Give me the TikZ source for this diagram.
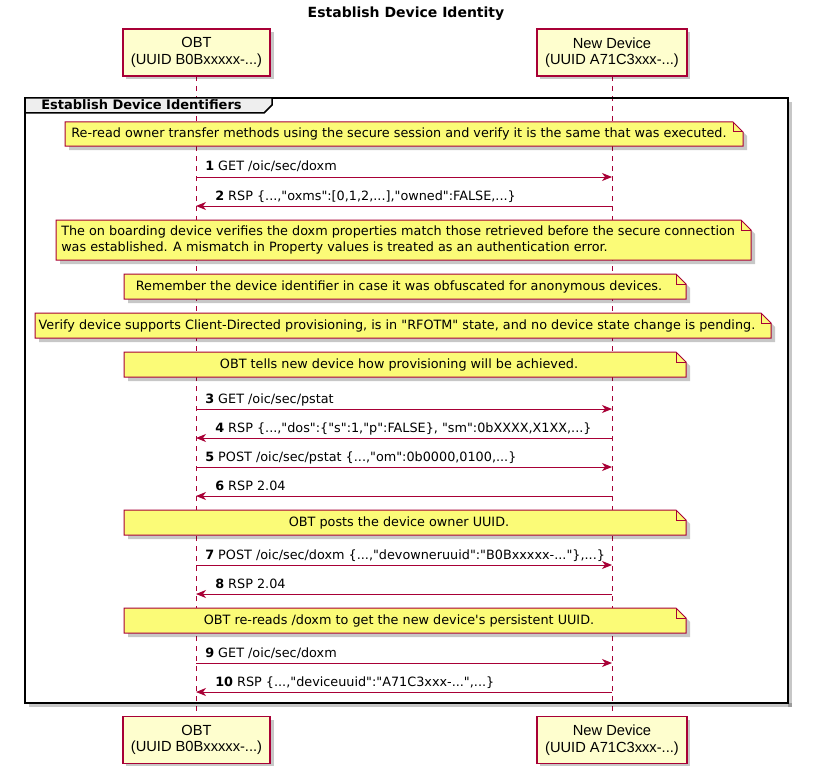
\documentclass[tikz,border=0pt]{standalone}
\usepackage{fontspec}
\setmainfont{DejaVu Sans}
\newfontfamily\partfont{Liberation Sans}
\usetikzlibrary{arrows.meta,calc}
\definecolor{pborder}{HTML}{A80036}
\definecolor{pfill}{HTML}{FEFECE}
\definecolor{nfill}{HTML}{FBFB77}
\definecolor{tabfill}{HTML}{EEEEEE}
\newcommand\qd{\textquotedbl}
\newcommand\notebox[7]{%
  \fill[shadowfill] (#1+4,#2+4) -- (#3-6,#2+4) -- (#3+4,#2+14) -- (#3+4,#4+4) -- (#1+4,#4+4) -- cycle;
  \draw[notestyle] (#1,#2) -- (#3-10,#2) -- (#3,#2+10) -- (#3,#4) -- (#1,#4) -- cycle;
  \draw[pborder, line width=0.75pt, line join=miter] (#3-10,#2) -- (#3-10,#2+10) -- (#3,#2+10);
  \node[notetext, #6] (#5) {#7};
}
\begin{document}
\begin{tikzpicture}[x=0.75pt,y=-0.75pt,
  base/.style={font=\fontsize{9.6pt}{12pt}\selectfont},
  participant/.style={font=\partfont\fontsize{11pt}{12.4pt}\selectfont, draw=pborder, fill=pfill, line width=1.125pt, align=center,
     minimum height=35.25pt, inner sep=0pt},
  lifeline/.style={draw=pborder, line width=0.75pt, dash pattern=on 3.75pt off 3.75pt},
  msg/.style={draw=pborder, line width=0.75pt, -{Stealth[length=7.5pt,width=6pt,inset=2.25pt]}},
  lbl/.style={base, inner sep=0pt, anchor=base west},
  notestyle/.style={draw=pborder, fill=nfill, line width=0.75pt, line join=miter},
  notetext/.style={base, inner sep=0pt},
  shadowfill/.style={fill=black, opacity=0.22},
]
\useasboundingbox (0,0) rectangle (816,781);

% title
\node[font=\bfseries\fontsize{10.5pt}{12pt}\selectfont] (title) at (406,14) {Establish Device Identity};

% lifelines
\coordinate (obtTop) at (196,76);
\coordinate (obtBot) at (196,717);
\coordinate (ndTop) at (612,76);
\coordinate (ndBot) at (612,717);
\draw[lifeline] (obtTop) -- (obtBot);
\draw[lifeline] (ndTop) -- (ndBot);

% participants (shadows)
\fill[shadowfill] (126,32) rectangle (274,79);
\fill[shadowfill] (540,32) rectangle (690,79);
\fill[shadowfill] (126,720) rectangle (274,766);
\fill[shadowfill] (540,720) rectangle (690,766);
\node[participant, minimum width=110.25pt] (obt) at (196.5,52.5) {OBT\\(UUID B0Bxxxxx-...)};
\node[participant, minimum width=112.5pt] (nd) at (612,52.5) {New Device\\(UUID A71C3xxx-...)};
\node[participant, minimum width=110.25pt] (obt2) at (196.5,740) {OBT\\(UUID B0Bxxxxx-...)};
\node[participant, minimum width=112.5pt] (nd2) at (612,740) {New Device\\(UUID A71C3xxx-...)};

% group frame
\fill[shadowfill] (788,102) rectangle (792,707);
\fill[shadowfill] (29,703) rectangle (792,707);
\draw[black, line width=1.5pt] (25,98) rectangle (788,703);
\draw[black, line width=1.125pt, fill=tabfill, line join=miter] (25,98) -- (272,98) -- (272,105) -- (264,113) -- (25,113) -- cycle;
\node[base, font=\bfseries\fontsize{9.75pt}{12pt}\selectfont, anchor=base west, inner sep=0pt] (grp) at (41,110) {Establish Device Identifiers};

% notes
\notebox{65}{122}{743}{146}{n1}{at={(399,134)}}{Re-read owner transfer methods using the secure session and verify it is the same that was executed.}
\notebox{56}{220}{751}{260}{n2}{align=left, anchor=west, at={(61,240)}}{The on boarding device verifies the doxm properties match those retrieved before the secure connection\\was established. A mismatch in Property values is treated as an authentication error.}
\notebox{124}{274}{686}{299}{n3}{at={(399,287)}}{Remember the device identifier in case it was obfuscated for anonymous devices.}
\notebox{35}{313}{771}{338}{n4}{at={(397,326)}}{Verify device supports Client-Directed provisioning, is in \qd RFOTM\qd{} state, and no device state change is pending.}
\notebox{124}{352}{686}{377}{n5}{at={(399,365)}}{OBT tells new device how provisioning will be achieved.}
\notebox{124}{510}{686}{535}{n6}{at={(399,523)}}{OBT posts the device owner UUID.}
\notebox{124}{608}{686}{633}{n7}{at={(399,621)}}{OBT re-reads /doxm to get the new device\textquotesingle s persistent UUID.}

% messages
\foreach \i/\y in {1/177,2/206,3/409,4/438,5/467,6/496,7/565,8/594,9/663,10/692}{
  \coordinate (o\i) at (196,\y);
  \coordinate (d\i) at (612,\y);
}
\draw[msg] (o1) -- (d1);
\draw[msg] (d2) -- (o2);
\draw[msg] (o3) -- (d3);
\draw[msg] (d4) -- (o4);
\draw[msg] (o5) -- (d5);
\draw[msg] (d6) -- (o6);
\draw[msg] (o7) -- (d7);
\draw[msg] (d8) -- (o8);
\draw[msg] (o9) -- (d9);
\draw[msg] (d10) -- (o10);

\node[lbl] (m1) at (205,171) {\textbf{1} GET /oic/sec/doxm};
\node[lbl] (m2) at (215,200) {\textbf{2} RSP \{...,\qd oxms\qd:[0,1,2,...],\qd owned\qd:FALSE,...\}};
\node[lbl] (m3) at (205,403) {\textbf{3} GET /oic/sec/pstat};
\node[lbl] (m4) at (215,432) {\textbf{4} RSP \{...,\qd dos\qd:\{\qd s\qd:1,\qd p\qd:FALSE\}, \qd sm\qd:0bXXXX,X1XX,...\}};
\node[lbl] (m5) at (205,461) {\textbf{5} POST /oic/sec/pstat \{...,\qd om\qd:0b0000,0100,...\}};
\node[lbl] (m6) at (215,490) {\textbf{6} RSP 2.04};
\node[lbl] (m7) at (205,559) {\textbf{7} POST /oic/sec/doxm \{...,\qd devowneruuid\qd:\qd B0Bxxxxx-...\qd\},...\}};
\node[lbl] (m8) at (215,588) {\textbf{8} RSP 2.04};
\node[lbl] (m9) at (205,657) {\textbf{9} GET /oic/sec/doxm};
\node[lbl] (m10) at (215,686) {\textbf{10} RSP \{...,\qd deviceuuid\qd:\qd A71C3xxx-...\qd,...\}};
\end{tikzpicture}
\end{document}
